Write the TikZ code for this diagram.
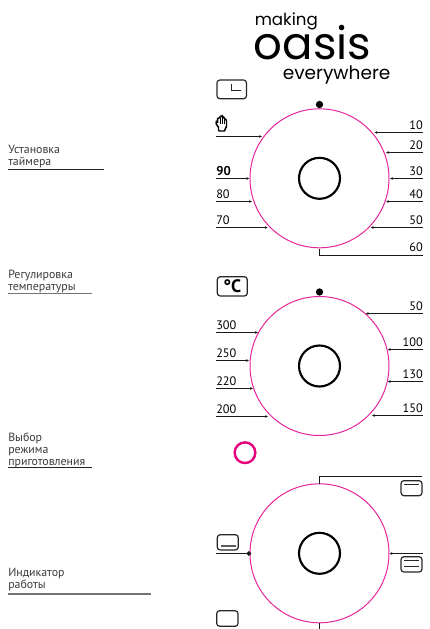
\documentclass[tikz,border=0pt]{standalone}
\usepackage{fontspec}
\setmainfont{PT Sans}
\newfontfamily\logofont{Poppins}
\usetikzlibrary{arrows.meta}
\definecolor{ring}{HTML}{E6259A}
\definecolor{ringb}{HTML}{E6007E}
\definecolor{txt}{HTML}{3A3A3A}
\tikzset{
 x=0.75pt,y=-0.75pt,
 dial/.style={circle,draw=ring,line width=0.75pt,minimum size=104.25pt,inner sep=0pt},
 knob/.style={circle,draw=black,line width=1.6pt,minimum size=30.75pt,inner sep=0pt},
 lead/.style={line width=1pt,draw=black!90,-{Latex[length=2pt,width=2.2pt]}},
 rule/.style={line width=1pt,draw=black!85},
 num/.style={inner sep=0pt,font=\fontsize{9.2}{9.2}\selectfont,text=black,anchor=base},
 side/.style={inner sep=0pt,font=\fontsize{8.9}{8.8}\selectfont,text=txt,anchor=base west,align=left},
 icon/.style={rounded corners=2.2pt,draw=black!85,line width=0.9pt},
 dotm/.style={circle,fill=black,inner sep=0pt,minimum size=5.5pt},
}
\begin{document}
\begin{tikzpicture}
\useasboundingbox (0,0) rectangle (429,629);
% logo
\node[inner sep=0pt,anchor=base west,font=\logofont\fontsize{12.5}{12.5}\selectfont] (lg1) at (254.5,25) {making};
\node[inner sep=0pt,anchor=base west,text depth=0pt,font=\logofont\fontsize{33.8}{33.8}\selectfont] (lg2) at (253.5,59) {oasis};
\node[inner sep=0pt,anchor=base west,font=\logofont\fontsize{13.9}{13.9}\selectfont] (lg3) at (282.5,79) {everywhere};
% dials
\foreach \n/\y in {a/178.3,b/366,c/553.3}{
 \node[dial] (\n) at (319.5,\y) {};
 \node[knob] (k\n) at (319.5,\y) {};
}
\node[dotm] (da) at (319.5,104.5) {};
\node[dotm] (db) at (319.5,292) {};
\node[circle,draw=ringb,line width=1.8pt,minimum size=15.5pt,inner sep=0pt] (ind) at (245,452.7) {};
% dial a connectors
\foreach \nm/\y/\xe in {10/132.5/374.5,20/152.5/386,30/178.5/390,40/201.5/386,50/227.5/370.7}{
 \coordinate (r\nm) at (423,\y); \coordinate (e\nm) at (\xe,\y);
 \draw[lead] (r\nm) -- (e\nm);
 \node[num,anchor=base east] (t\nm) at (423,\y-3) {\nm};
}
\foreach \nm/\y/\xe in {90/178.5/249.3,80/201.5/252,70/227.5/267.7}{
 \coordinate (r\nm) at (216,\y); \coordinate (e\nm) at (\xe,\y);
 \draw[lead] (r\nm) -- (e\nm);
}
\node[num,anchor=base west,font=\fontsize{9.6}{9}\bfseries\selectfont] (t90) at (216,175.3) {90};
\node[num,anchor=base west] (t80) at (216,198) {80};
\node[num,anchor=base west] (t70) at (216,224.3) {70};
\coordinate (rh) at (216,136.5); \coordinate (eh) at (262,136.5);
\draw[lead] (rh) -- (eh);
\coordinate (r60) at (423,255.5); \coordinate (e60) at (319.5,248.5);
\draw[rule,draw=black!90] (r60) -| (e60);
\node[num,anchor=base east] (t60) at (423,251.7) {60};
% dial b connectors
\foreach \nm/\y/\xe in {50/313.5/365.7,100/349.5/387.7,130/381.5/387.7,150/415.5/372}{
 \coordinate (q\nm) at (423,\y); \coordinate (f\nm) at (\xe,\y);
 \draw[lead] (q\nm) -- (f\nm);
 \node[num,anchor=base east] (u\nm) at (423,\y-3) {\nm};
}
\foreach \nm/\y/\xe in {300/332.5/258,250/360.5/249,220/388.5/253,200/416.5/268}{
 \coordinate (q\nm) at (216,\y); \coordinate (f\nm) at (\xe,\y);
 \draw[lead] (q\nm) -- (f\nm);
 \node[num,anchor=base west] (u\nm) at (216,\y-3) {\nm};
}
% dial c connectors
\coordinate (c1) at (422,476.5); \coordinate (c1e) at (319.5,483.5);
\draw[rule,draw=black!90] (c1) -| (c1e);
\coordinate (c2) at (216,553.5); \coordinate (c2e) at (251,553.5);
\draw[line width=1pt,draw=black!90,-{Circle[length=3.2pt]}] (c2) -- (c2e);
\coordinate (c3) at (423,553.5); \coordinate (c3e) at (389.5,553.5);
\draw[lead] (c3) -- (c3e);
\coordinate (c4) at (319.5,629); \coordinate (c4e) at (319.5,623);
\draw[rule,draw=black!90] (c4) -- (c4e);
% icons
\draw[icon] (217,80) rectangle (246.5,98.7);
\draw[line width=0.9pt,draw=black!85] (231.7,84) -- (231.7,90.5) -- (240.7,90.5);
\draw[icon] (217.3,276.7) rectangle (247.3,296);
\node[inner sep=0pt,font=\fontsize{13.5}{13.5}\bfseries\selectfont] (deg) at (232.3,286.3) {°C};
\draw[icon] (401,480.7) rectangle (422,495.7);
\draw[line width=0.9pt,draw=black!85] (404.3,484.5) -- (419,484.5);
\draw[icon] (217.3,534.7) rectangle (238.3,550);
\draw[line width=1.1pt,draw=black!65] (221,546) -- (235.7,546);
\draw[icon] (401,556.7) rectangle (422,572);
\draw[line width=0.9pt,draw=black!85] (404.3,560.5) -- (419,560.5) (404.3,566.5) -- (419,566.5);
\draw[icon] (216.7,610.7) rectangle (238,626.3);
% hand
\draw[line width=1.1pt,draw=black,fill=white,rounded corners=0.6pt]
 (218.5,131) -- (218.5,127) -- (216,124) -- (216.5,120.5) -- (217.7,123) -- (217.7,118) -- (220,118) -- (220,116.2) -- (222.5,116.2) -- (222.5,117) -- (224.5,117.5) -- (224.5,119) -- (226.5,119.5) -- (226.5,127) -- (225,129) -- (225,131) -- cycle;
\draw[line width=0.6pt] (220,118) -- (220,124) (222.3,117) -- (222.3,124) (224.4,118.5) -- (224.4,124);
% side labels
\node[side] (s1) at (8,165.5) {Установка\\таймера};
\draw[rule] (8,169.5) -- (103.5,169.5);
\node[side] (s2) at (8,290.5) {Регулировка\\температуры};
\draw[rule,draw=black!55,line width=1.2pt] (8,293.5) -- (92,293.5);
\node[side] (s3) at (8,465) {Выбор\\режима\\приготовления};
\draw[rule] (8,467.5) -- (92,467.5);
\node[side] (s4) at (8,588) {Индикатор\\работы};
\draw[rule,draw=black!55,line width=1.2pt] (8,594) -- (151,594);
\end{tikzpicture}
\end{document}
